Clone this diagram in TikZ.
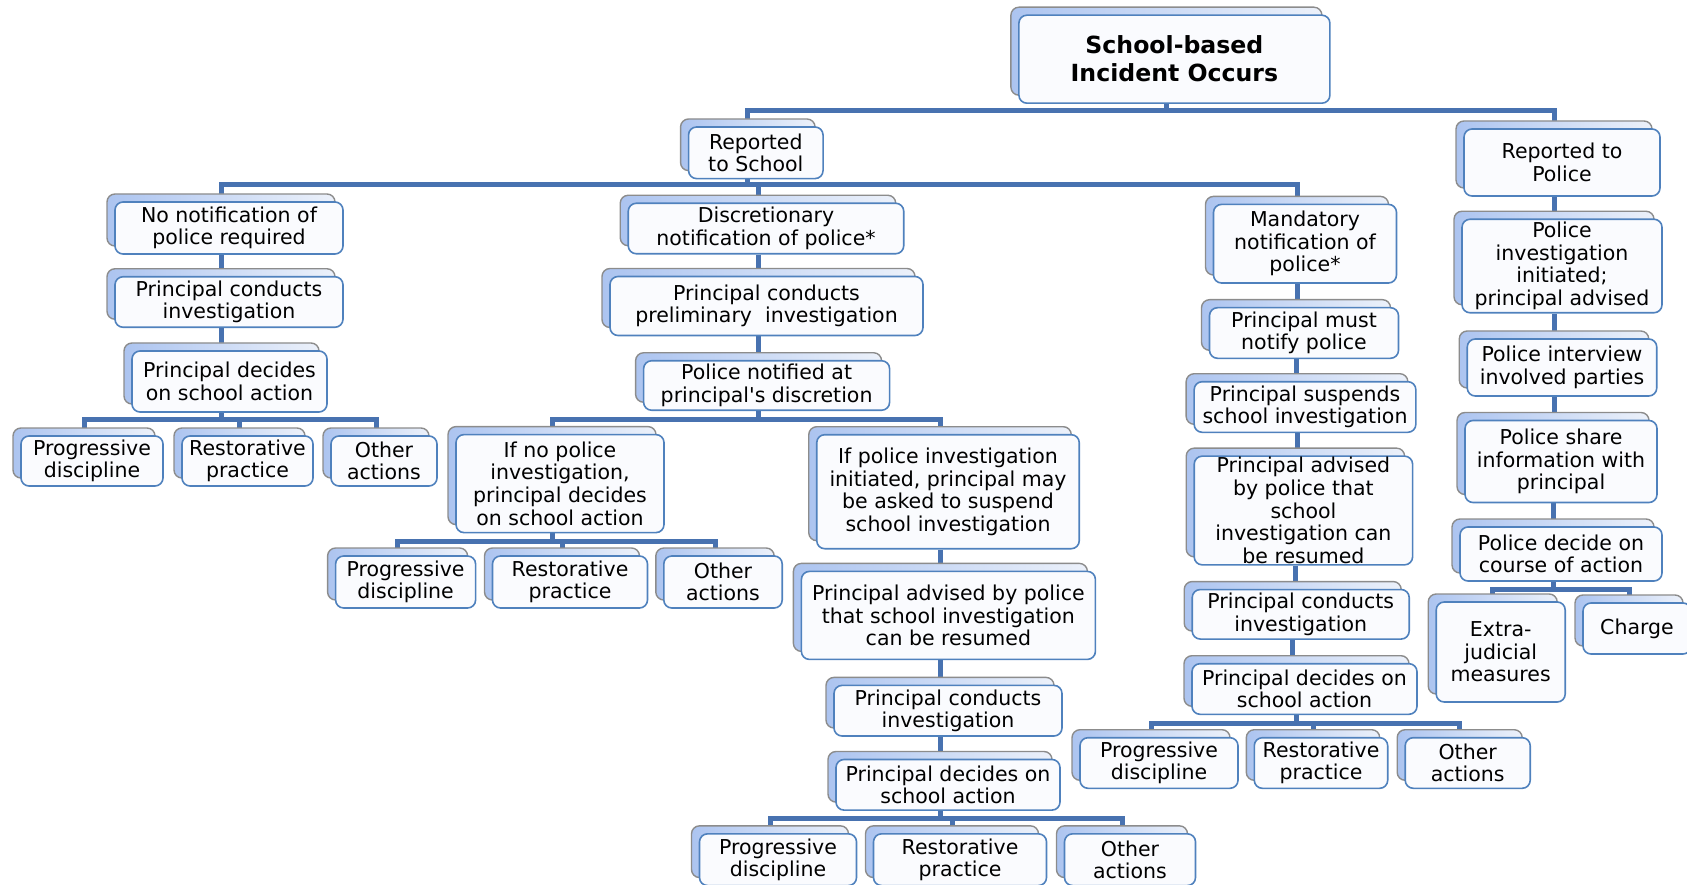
\documentclass[tikz,border=0pt]{standalone}
\usepackage{fontspec}
\setmainfont{DejaVu Sans}
\usepackage{xcolor}
\usepackage{tikz}
\usetikzlibrary{shadows}
\usetikzlibrary{backgrounds}
\definecolor{linkblue}{RGB}{72,114,176}
\definecolor{boxblue}{RGB}{79,129,189}
\definecolor{boxfill}{RGB}{250,251,254}
\definecolor{cardgray}{RGB}{140,140,140}
\definecolor{cardblue}{RGB}{172,196,240}
\definecolor{cardfill}{RGB}{236,241,250}
\tikzset{
	box node/.style={draw=boxblue,line width=1.6pt,rounded corners=8pt,fill=boxfill,
		inner sep=0pt,align=center,font=\fontsize{20.5}{22.6}\selectfont,
		copy shadow={shadow xshift=-8pt,shadow yshift=8pt,draw=cardgray,line width=1.4pt,
			left color=cardblue,right color=cardfill}},
	main node/.style={box node,font=\fontsize{23.6}{28}\selectfont\bfseries},
	boxsize/.style 2 args={minimum width=#1pt,minimum height=#2pt},
	edge line/.style={draw=linkblue,line width=5pt}
}

\begin{document}
\begin{tikzpicture}[x=1pt,y=-1pt]
	\useasboundingbox (0,0) rectangle (1687,885);
	\node [main node,boxsize={311}{88}] (1) at (1174.4,59.2) {School-based\\Incident Occurs};
	\node [box node,boxsize={134.5}{51.6}] (2) at (755.8,152.8) {Reported\\to School};
	\node [box node,boxsize={196}{67}] (3) at (1562,162.5) {Reported to\\Police};
	\node [box node,boxsize={228}{52}] (4) at (229,228) {No notification of\\police required};
	\node [box node,boxsize={275.5}{50.5}] (5) at (766,228.5) {Discretionary\\notification of police*};
	\node [box node,boxsize={183}{78.6}] (6) at (1305,243.7) {Mandatory\\notification of\\police*};
	\node [box node,boxsize={200}{93.5}] (7) at (1562,266) {Police\\investigation\\initiated;\\principal advised};
	\node [box node,boxsize={189.5}{57}] (8) at (1562,367.5) {Police interview\\involved parties};
	\node [box node,boxsize={192}{82}] (9) at (1561,461.5) {Police share\\information with\\principal};
	\node [box node,boxsize={202}{54}] (10) at (1561,554) {Police decide on\\course of action};
	\node [box node,boxsize={129}{100}] (11) at (1500.7,652) {Extra-\\judicial\\measures};
	\node [box node,boxsize={108}{51}] (12) at (1637,628.5) {Charge};
	\node [box node,boxsize={228}{50.5}] (13) at (229,302) {Principal conducts\\investigation};
	\node [box node,boxsize={195}{61}] (14) at (229.5,381.5) {Principal decides\\on school action};
	\node [box node,boxsize={142}{50}] (15) at (92,461) {Progressive\\discipline};
	\node [box node,boxsize={131}{50}] (16) at (247.5,461) {Restorative\\practice};
	\node [box node,boxsize={106}{50}] (17) at (384,461) {Other\\actions};
	\node [box node,boxsize={313}{59}] (18) at (766.5,306) {Principal conducts\\preliminary\ \ investigation};
	\node [box node,boxsize={246}{49.5}] (19) at (766.6,385.5) {Police notified at\\principal\textquotesingle s discretion};
	\node [box node,boxsize={208}{98}] (20) at (560,483.6) {If no police\\investigation,\\principal decides\\on school action};
	\node [box node,boxsize={262.5}{114}] (21) at (948,491.7) {If police investigation\\initiated, principal may\\be asked to suspend\\school investigation};
	\node [box node,boxsize={140}{52}] (22) at (405.6,582) {Progressive\\discipline};
	\node [box node,boxsize={155}{52}] (23) at (570,582) {Restorative\\practice};
	\node [box node,boxsize={118.4}{52}] (24) at (723,582) {Other\\actions};
	\node [box node,boxsize={294}{88}] (25) at (948.4,615.4) {Principal advised by police\\that school investigation\\can be resumed};
	\node [box node,boxsize={228}{50.6}] (26) at (948,710.7) {Principal conducts\\investigation};
	\node [box node,boxsize={224}{50.6}] (27) at (948,784.8) {Principal decides on\\school action};
	\node [box node,boxsize={157}{51.7}] (28) at (778,859.7) {Progressive\\discipline};
	\node [box node,boxsize={173}{51.7}] (29) at (960,859.7) {Restorative\\practice};
	\node [box node,boxsize={131}{51.7}] (30) at (1130,859.7) {Other\\actions};
	\node [box node,boxsize={189}{50.6}] (31) at (1304,333) {Principal must\\notify police};
	\node [box node,boxsize={221.7}{50.6}] (32) at (1305,407) {Principal suspends\\school investigation};
	\node [box node,boxsize={218.4}{108.7}] (33) at (1303.4,510.5) {Principal advised\\by police that\\school\\investigation can\\be resumed};
	\node [box node,boxsize={217}{49.5}] (34) at (1300.7,614.3) {Principal conducts\\investigation};
	\node [box node,boxsize={225}{50.6}] (35) at (1304.5,689) {Principal decides on\\school action};
	\node [box node,boxsize={158}{50.6}] (36) at (1159,763) {Progressive\\discipline};
	\node [box node,boxsize={133.4}{50.6}] (37) at (1321,763) {Restorative\\practice};
	\node [box node,boxsize={125}{50.6}] (38) at (1467.7,763) {Other\\actions};
	\coordinate (b1) at (0,110.8);
	\coordinate (b2) at (0,185);
	\coordinate (b14) at (0,419);
	\coordinate (b19) at (0,419.6);
	\coordinate (b20) at (0,541);
	\coordinate (b27) at (0,818.8);
	\coordinate (b35) at (0,723);
	\coordinate (b10) at (0,589.6);
	\begin{pgfonlayer}{background}
		\foreach \p/\c/\b in {1/2/b1,1/3/b1,2/4/b2,2/5/b2,2/6/b2,14/15/b14,14/16/b14,14/17/b14,
			19/20/b19,19/21/b19,20/22/b20,20/23/b20,20/24/b20,27/28/b27,27/29/b27,27/30/b27,
			35/36/b35,35/37/b35,35/38/b35,10/11/b10,10/12/b10}
			\draw [edge line] ([xshift=-8pt]\p.south) -- ([xshift=-8pt]\p.south |- \b) -| ([xshift=-8pt]\c.north);
		\foreach \p/\c in {4/13,13/14,5/18,18/19,21/25,25/26,26/27,6/31,31/32,32/33,33/34,34/35,3/7,7/8,8/9,9/10}
			\draw [edge line] ([xshift=-8pt]\p.south) -- ([xshift=-8pt]\p.south |- \c.north);
	\end{pgfonlayer}
\end{tikzpicture}
\end{document}
